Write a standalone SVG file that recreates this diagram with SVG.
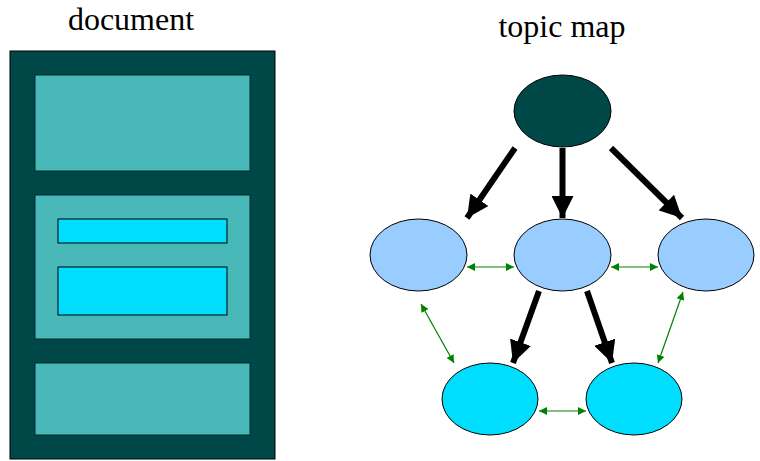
<svg xmlns="http://www.w3.org/2000/svg" width="760" height="461" viewBox="0 0 760 461">
<defs>
<style>
.lbl{font-family:"Liberation Serif","Times New Roman",serif;font-size:32px;fill:#000;text-anchor:middle}
.dark{fill:#004848;stroke:#000;stroke-width:1}
.sec{fill:#48B8B8;stroke:#002828;stroke-width:1}
.cyan{fill:#00DDFF;stroke:#000;stroke-width:1}
.lb{fill:#99CCFF;stroke:#000;stroke-width:1}
.big{stroke:#000;stroke-width:6;fill:none;marker-end:url(#bigHead)}
.rel{stroke:#008000;stroke-width:1.2;fill:none;marker-start:url(#gStart);marker-end:url(#gEnd)}
</style>
<marker id="bigHead" markerUnits="userSpaceOnUse" viewBox="0 0 22 22" refX="22" refY="11" markerWidth="22" markerHeight="22" orient="auto">
<path d="M0,0 L22,11 L0,22 Z" fill="#000"/>
</marker>
<marker id="gEnd" markerUnits="userSpaceOnUse" viewBox="0 0 8 8" refX="8" refY="4" markerWidth="8" markerHeight="8" orient="auto">
<path d="M0,0 L8,4 L0,8 Z" fill="#008000"/>
</marker>
<marker id="gStart" markerUnits="userSpaceOnUse" viewBox="0 0 8 8" refX="0" refY="4" markerWidth="8" markerHeight="8" orient="auto">
<path d="M8,0 L0,4 L8,8 Z" fill="#008000"/>
</marker>
</defs>
<rect width="760" height="461" fill="#fff"/>
<g id="document">
<text class="lbl" x="131" y="30">document</text>
<rect class="dark" x="10" y="51" width="265" height="408"/>
<rect class="sec" x="35" y="75" width="215" height="96"/>
<rect class="sec" x="35" y="195" width="215" height="144"/>
<rect class="cyan" x="58" y="219" width="169" height="24"/>
<rect class="cyan" x="58" y="267" width="169" height="48"/>
<rect class="sec" x="35" y="363" width="215" height="72"/>
</g>
<text class="lbl" x="562" y="37">topic map</text>
<g id="connectors">
<line class="big" x1="515" y1="148" x2="467" y2="218"/>
<line class="big" x1="562.5" y1="148" x2="562.5" y2="218"/>
<line class="big" x1="611" y1="148" x2="682" y2="218"/>
<line class="big" x1="539" y1="291" x2="513" y2="363"/>
<line class="big" x1="587" y1="291" x2="612" y2="363"/>
<line class="rel" x1="467" y1="267" x2="514" y2="267"/>
<line class="rel" x1="611" y1="267" x2="658" y2="267"/>
<line class="rel" x1="539" y1="411" x2="586" y2="411"/>
<line class="rel" x1="421" y1="304" x2="454" y2="363"/>
<line class="rel" x1="683" y1="292" x2="658" y2="363"/>
</g>
<g id="topic-root"><ellipse class="dark" cx="562.5" cy="111" rx="48.5" ry="36"/></g>
<g id="topic-left"><ellipse class="lb" cx="418.5" cy="255" rx="48.5" ry="36"/></g>
<g id="topic-center"><ellipse class="lb" cx="562.5" cy="255" rx="48.5" ry="36"/></g>
<g id="topic-right"><ellipse class="lb" cx="706" cy="255" rx="48" ry="36"/></g>
<g id="topic-bottom-left"><ellipse class="cyan" cx="490" cy="399" rx="48" ry="36"/></g>
<g id="topic-bottom-right"><ellipse class="cyan" cx="634" cy="399" rx="48" ry="36"/></g>
</svg>
